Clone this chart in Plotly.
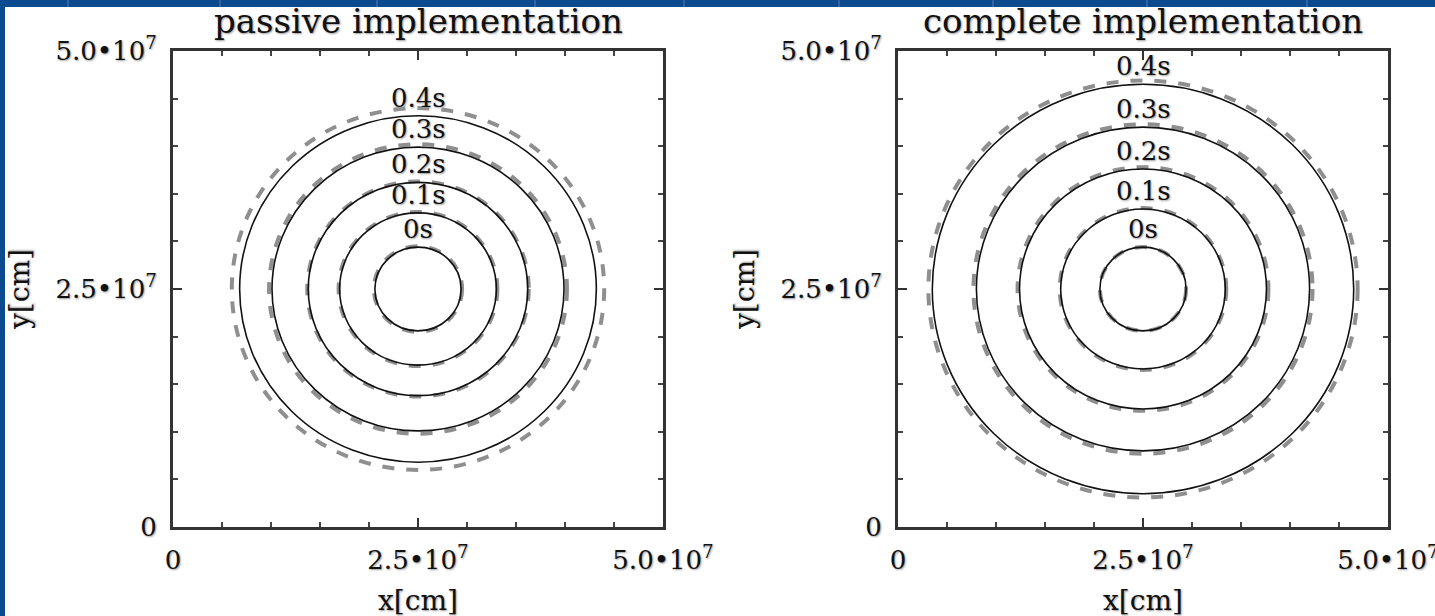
import plotly.graph_objects as go

# ---- data (cm) ----
times = ["0s", "0.1s", "0.2s", "0.3s", "0.4s"]
center = [2.5e7, 2.5e7]
passive_black_r = [4.4e6, 8.0e6, 11.2e6, 14.9e6, 18.2e6]
passive_gray_r = [4.5e6, 8.1e6, 11.3e6, 15.2e6, 19.0e6]
complete_black_r = [4.4e6, 8.4e6, 12.6e6, 17.0e6, 21.5e6]
complete_gray_r = [4.4e6, 8.5e6, 12.8e6, 17.3e6, 21.9e6]
tick_vals = [0, 2.5e7, 5.0e7]
tick_text = ["0", "2.5\u202210<sup>7</sup>", "5.0\u202210<sup>7</sup>"]
titles = ["passive implementation", "complete implementation"]

W, H = 1435, 616
FONT = "DejaVu Serif"
BLUE = "#0b4a8f"
SHADOW = "1px 1px 2px #9a9a9a"

fig = go.Figure()

def px(x):
    return x / W

def py(y):
    return 1 - y / H

panels = [
    dict(xa="x", ya="y", left=173, right=663, black=passive_black_r, gray=passive_gray_r, ytitle_x=19),
    dict(xa="x2", ya="y2", left=898, right=1388, black=complete_black_r, gray=complete_gray_r, ytitle_x=744),
]
top, bottom = 51, 527

shapes = []
annotations = []

# slide background: white area with blue border strip top/left
shapes.append(dict(type="rect", xref="paper", yref="paper", x0=px(5), x1=1, y0=0, y1=py(7),
                   fillcolor="white", line=dict(width=0), layer="below"))
for gx in [68, 220, 377, 535, 684, 839, 993, 1147, 1307]:
    shapes.append(dict(type="line", xref="paper", yref="paper", x0=px(gx), x1=px(gx), y0=py(7), y1=1,
                       line=dict(color="#2d64a6", width=2), layer="below"))

axis_common = dict(
    range=[0, 5e7], tickvals=tick_vals, ticktext=tick_text, ticks="inside", ticklen=9, tickwidth=2,
    tickcolor="#333", showline=True, linewidth=3, linecolor="#333", mirror="ticks",
    showgrid=False, zeroline=False, automargin=False, ticklabeloverflow="allow",
    tickfont=dict(family=FONT, size=26, color="#111", shadow=SHADOW),
    minor=dict(dtick=5e6, ticks="inside", ticklen=5, tickwidth=2, tickcolor="#444"),
)

for i, p in enumerate(panels):
    suffix = "" if i == 0 else "2"
    fig.update_layout(**{
        "xaxis" + suffix: dict(axis_common, domain=[px(p["left"]), px(p["right"])], anchor="y" + suffix,
                               ticklabelstandoff=8),
        "yaxis" + suffix: dict(axis_common, domain=[py(bottom), py(top)], anchor="x" + suffix,
                               ticklabelstandoff=8),
    })
    cx, cy = center
    for rg, rb, lab in zip(p["gray"], p["black"], times):
        shapes.append(dict(type="circle", xref=p["xa"], yref=p["ya"], x0=cx - rg, x1=cx + rg,
                           y0=cy - rg, y1=cy + rg, line=dict(color="#8f8f8f", width=4, dash="dash")))
        shapes.append(dict(type="circle", xref=p["xa"], yref=p["ya"], x0=cx - rb, x1=cx + rb,
                           y0=cy - rb, y1=cy + rb, line=dict(color="#111", width=1.6)))
        annotations.append(dict(x=cx, y=cy + rb, xref=p["xa"], yref=p["ya"], text=lab, showarrow=False,
                                xanchor="center", yanchor="middle", yshift=18,
                                font=dict(family=FONT, size=26, color="#111", shadow=SHADOW)))
    mid = (p["left"] + p["right"]) / 2
    annotations.append(dict(x=px(mid), y=py(21), xref="paper", yref="paper", text=titles[i],
                            xanchor="center", yanchor="middle", showarrow=False,
                            font=dict(family=FONT, size=34, color="#111", shadow=SHADOW)))
    annotations.append(dict(x=px(mid), y=py(600), xref="paper", yref="paper", text="x[cm]",
                            xanchor="center", yanchor="middle", showarrow=False,
                            font=dict(family=FONT, size=28, color="#111", shadow=SHADOW)))
    annotations.append(dict(x=px(p["ytitle_x"]), y=py(290), xref="paper", yref="paper", text="y[cm]",
                            xanchor="center", yanchor="middle", textangle=-90, showarrow=False,
                            font=dict(family=FONT, size=28, color="#111", shadow=SHADOW)))

fig.update_layout(
    width=W, height=H, margin=dict(l=0, r=0, t=0, b=0, autoexpand=False),
    paper_bgcolor=BLUE, plot_bgcolor="white", showlegend=False,
    shapes=shapes, annotations=annotations,
)

fig.write_html("out.html", config={"displayModeBar": False},
               post_script="document.body.style.margin='0';document.body.style.overflow='hidden';")
